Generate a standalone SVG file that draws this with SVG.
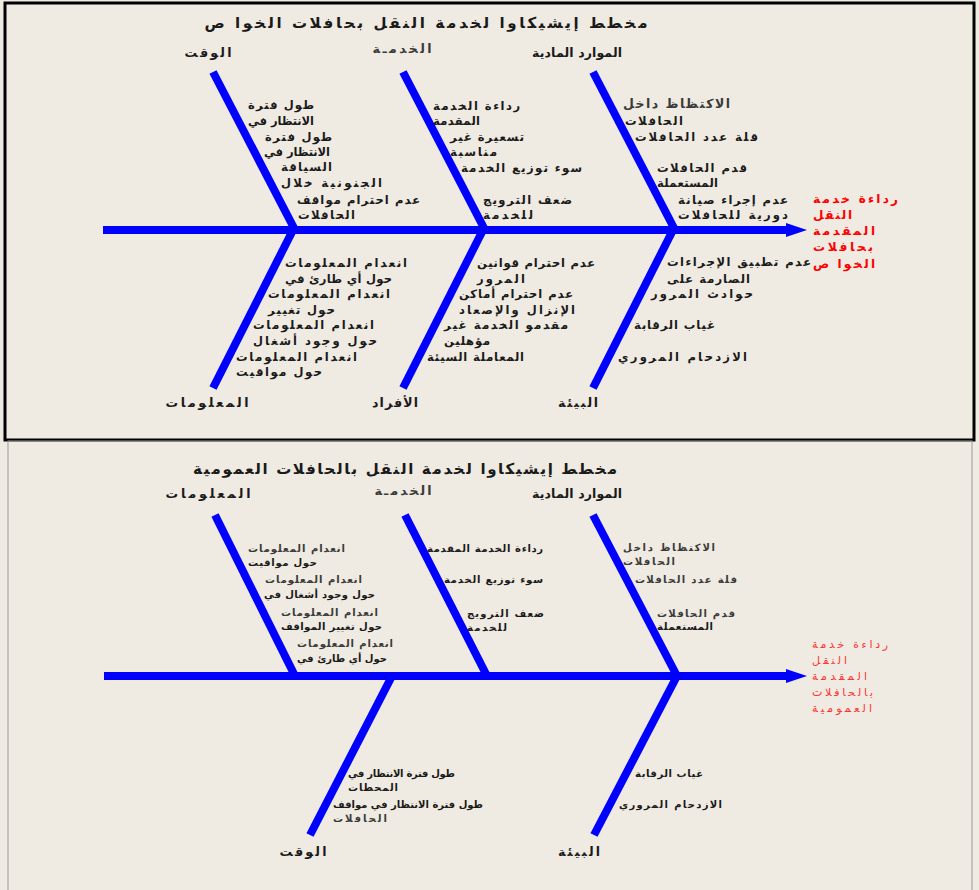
<svg xmlns="http://www.w3.org/2000/svg" width="979" height="890" viewBox="0 0 979 890">
<style>
text{font-family:"DejaVu Sans",sans-serif;fill:#1a1a1a}
.ttl{font-size:15px;font-weight:bold;text-anchor:middle}
.lbl{font-size:12.5px;font-weight:bold;text-anchor:middle}
.t{font-size:11.5px;font-weight:bold;text-anchor:end}
.s{font-size:10px;font-weight:bold;text-anchor:end}
.g{fill:#3a3a3a}
.eff{font-size:12px;font-weight:bold;fill:#ff0000}
.eff2{font-size:11px;fill:#ff3333}
.bone{stroke:#0000ff;stroke-width:8;fill:none;stroke-linecap:butt}
.ah{fill:#0000ff}
</style>
<rect x="0" y="0" width="979" height="890" fill="#efebe2"/>
<rect x="5" y="3" width="969" height="437" fill="none" stroke="#000" stroke-width="3"/>
<rect x="8" y="441" width="964" height="450" fill="none" stroke="#999" stroke-width="1"/>

<g id="connectors">
  <line class="bone" x1="103" y1="230" x2="790" y2="230"/>
  <polygon class="ah" points="786,223 807,230 786,237"/>
  <line class="bone" x1="213" y1="72" x2="295" y2="230"/>
  <line class="bone" x1="403" y1="72" x2="485" y2="230"/>
  <line class="bone" x1="593" y1="72" x2="675" y2="230"/>
  <line class="bone" x1="293" y1="230" x2="213" y2="388"/>
  <line class="bone" x1="483" y1="230" x2="403" y2="388"/>
  <line class="bone" x1="673" y1="230" x2="593" y2="388"/>

  <line class="bone" x1="104" y1="676" x2="790" y2="676"/>
  <polygon class="ah" points="786,669 807,676 786,683"/>
  <line class="bone" x1="215" y1="515" x2="295" y2="676"/>
  <line class="bone" x1="405" y1="515" x2="487" y2="676"/>
  <line class="bone" x1="593" y1="515" x2="677" y2="676"/>
  <line class="bone" x1="392" y1="676" x2="310" y2="835"/>
  <line class="bone" x1="677" y1="676" x2="594" y2="835"/>
</g>

<g id="title1"><text class="ttl" x="426" y="28" textLength="443" lengthAdjust="spacing">مخطط إيشيكاوا لخدمة النقل بحافلات الخوا ص</text></g>
<g id="effect1">
  <text class="eff" x="813" y="203" textLength="85" lengthAdjust="spacing">رداءة خدمة</text>
  <text class="eff" x="813" y="219" textLength="39" lengthAdjust="spacing">النقل</text>
  <text class="eff" x="813" y="235" textLength="62" lengthAdjust="spacing">المقدمة</text>
  <text class="eff" x="813" y="251" textLength="60" lengthAdjust="spacing">بحافلات</text>
  <text class="eff" x="813" y="268" textLength="62" lengthAdjust="spacing">الخوا ص</text>
</g>
<g id="time1">
  <text class="lbl" x="208" y="57" textLength="47" lengthAdjust="spacing">الوقت</text>
  <text class="t" x="314" y="109" textLength="66" lengthAdjust="spacing">طول فترة</text>
  <text class="t" x="314" y="125" textLength="66" lengthAdjust="spacing">الانتظار في</text>
  <text class="t" x="332" y="141" textLength="67" lengthAdjust="spacing">طول فترة</text>
  <text class="t" x="330" y="156" textLength="66" lengthAdjust="spacing">الانتظار في</text>
  <text class="t" x="332" y="171" textLength="51" lengthAdjust="spacing">السياقة</text>
  <text class="t" x="382" y="187" textLength="101" lengthAdjust="spacing">الجنونية خلال</text>
  <text class="t" x="420" y="204" textLength="123" lengthAdjust="spacing">عدم احترام مواقف</text>
  <text class="t" x="355" y="219" textLength="57" lengthAdjust="spacing">الحافلات</text>
</g>
<g id="service1">
  <text class="lbl g" x="402" y="53" textLength="59" lengthAdjust="spacing">الخدمـة</text>
  <text class="t" x="520" y="110" textLength="87" lengthAdjust="spacing">رداءة الخدمة</text>
  <text class="t" x="480" y="125" textLength="47" lengthAdjust="spacing">المقدمة</text>
  <text class="t" x="524" y="141" textLength="74" lengthAdjust="spacing">تسعيرة غير</text>
  <text class="t" x="497" y="156" textLength="47" lengthAdjust="spacing">مناسبة</text>
  <text class="t" x="582" y="172" textLength="121" lengthAdjust="spacing">سوء توزيع الخدمة</text>
  <text class="t" x="572" y="204" textLength="89" lengthAdjust="spacing">ضعف الترويج</text>
  <text class="t" x="533" y="219" textLength="50" lengthAdjust="spacing">للخدمة</text>
</g>
<g id="resources1">
  <text class="lbl" x="577" y="57" textLength="90" lengthAdjust="spacing">الموارد المادية</text>
  <text class="t g" x="730" y="108" style="font-size:12.5px" textLength="107" lengthAdjust="spacing">الاكتظاظ داخل</text>
  <text class="t" x="683" y="125" textLength="58" lengthAdjust="spacing">الحافلات</text>
  <text class="t" x="758" y="141" textLength="123" lengthAdjust="spacing">قلة عدد الحافلات</text>
  <text class="t" x="747" y="172" textLength="90" lengthAdjust="spacing">قدم الحافلات</text>
  <text class="t" x="718" y="187" textLength="61" lengthAdjust="spacing">المستعملة</text>
  <text class="t" x="788" y="204" textLength="110" lengthAdjust="spacing">عدم إجراء صيانة</text>
  <text class="t" x="788" y="219" textLength="110" lengthAdjust="spacing">دورية للحافلات</text>
</g>
<g id="info1">
  <text class="lbl" x="207" y="407" textLength="83" lengthAdjust="spacing">المعلومات</text>
  <text class="t" x="407" y="267" textLength="122" lengthAdjust="spacing">انعدام المعلومات</text>
  <text class="t" x="392" y="283" textLength="107" lengthAdjust="spacing">حول أي طارئ في</text>
  <text class="t" x="390" y="298" textLength="122" lengthAdjust="spacing">انعدام المعلومات</text>
  <text class="t" x="335" y="314" textLength="67" lengthAdjust="spacing">حول تغيير</text>
  <text class="t" x="374" y="329" textLength="121" lengthAdjust="spacing">انعدام المعلومات</text>
  <text class="t" x="377" y="345" textLength="124" lengthAdjust="spacing">حول وجود أشغال</text>
  <text class="t" x="357" y="361" textLength="121" lengthAdjust="spacing">انعدام المعلومات</text>
  <text class="t" x="322" y="376" textLength="86" lengthAdjust="spacing">حول مواقيت</text>
</g>
<g id="people1">
  <text class="lbl" x="395" y="407" textLength="46" lengthAdjust="spacing">الأفراد</text>
  <text class="t" x="595" y="267" textLength="118" lengthAdjust="spacing">عدم احترام قوانين</text>
  <text class="t" x="525" y="283" textLength="48" lengthAdjust="spacing">المرور</text>
  <text class="t" x="573" y="298" textLength="114" lengthAdjust="spacing">عدم احترام أماكن</text>
  <text class="t" x="575" y="314" textLength="116" lengthAdjust="spacing">الإنزال والإصعاد</text>
  <text class="t" x="568" y="329" textLength="124" lengthAdjust="spacing">مقدمو الخدمة غير</text>
  <text class="t" x="490" y="345" textLength="46" lengthAdjust="spacing">مؤهلين</text>
  <text class="t" x="524" y="361" textLength="97" lengthAdjust="spacing">المعاملة السيئة</text>
</g>
<g id="env1">
  <text class="lbl" x="578" y="407" textLength="40" lengthAdjust="spacing">البيئة</text>
  <text class="t" x="811" y="266" textLength="144" lengthAdjust="spacing">عدم تطبيق الإجراءات</text>
  <text class="t" x="750" y="283" textLength="83" lengthAdjust="spacing">الصارمة على</text>
  <text class="t" x="753" y="298" textLength="102" lengthAdjust="spacing">حوادث المرور</text>
  <text class="t" x="715" y="329" textLength="81" lengthAdjust="spacing">غياب الرقابة</text>
  <text class="t" x="747" y="361" textLength="129" lengthAdjust="spacing">الازدحام المروري</text>
</g>

<g id="title2"><text class="ttl" x="405" y="474" textLength="424" lengthAdjust="spacing">مخطط إيشيكاوا لخدمة النقل بالحافلات العمومية</text></g>
<g id="effect2">
  <text class="eff2" x="812" y="648" textLength="76" lengthAdjust="spacing">رداءة خدمة</text>
  <text class="eff2" x="812" y="664" textLength="35" lengthAdjust="spacing">النقل</text>
  <text class="eff2" x="812" y="680" textLength="55" lengthAdjust="spacing">المقدمة</text>
  <text class="eff2" x="812" y="696" textLength="61" lengthAdjust="spacing">بالحافلات</text>
  <text class="eff2" x="812" y="712" textLength="60" lengthAdjust="spacing">العمومية</text>
</g>
<g id="info2">
  <text class="lbl" x="208" y="498" textLength="85" lengthAdjust="spacing">المعلومات</text>
  <text class="s g" x="345" y="552" textLength="97" lengthAdjust="spacing">انعدام المعلومات</text>
  <text class="s" x="317" y="566" textLength="69" lengthAdjust="spacing">حول مواقيت</text>
  <text class="s g" x="362" y="583" textLength="97" lengthAdjust="spacing">انعدام المعلومات</text>
  <text class="s" x="375" y="598" textLength="111" lengthAdjust="spacing">حول وجود أشغال في</text>
  <text class="s g" x="378" y="616" textLength="97" lengthAdjust="spacing">انعدام المعلومات</text>
  <text class="s" x="382" y="630" textLength="101" lengthAdjust="spacing">حول تغيير المواقف</text>
  <text class="s g" x="393" y="647" textLength="96" lengthAdjust="spacing">انعدام المعلومات</text>
  <text class="s" x="387" y="662" textLength="90" lengthAdjust="spacing">حول أي طارئ في</text>
</g>
<g id="service2">
  <text class="lbl g" x="403" y="495" textLength="57" lengthAdjust="spacing">الخدمـة</text>
  <text class="s" x="543" y="552" textLength="116" lengthAdjust="spacing">رداءة الخدمة المقدمة</text>
  <text class="s" x="543" y="583" textLength="99" lengthAdjust="spacing">سوء توزيع الخدمة</text>
  <text class="s" x="544" y="617" textLength="77" lengthAdjust="spacing">ضعف الترويج</text>
  <text class="s" x="507" y="631" textLength="40" lengthAdjust="spacing">للخدمة</text>
</g>
<g id="resources2">
  <text class="lbl" x="577" y="498" textLength="90" lengthAdjust="spacing">الموارد المادية</text>
  <text class="s g" x="715" y="551" textLength="92" lengthAdjust="spacing">الاكتظاظ داخل</text>
  <text class="s g" x="675" y="565" textLength="52" lengthAdjust="spacing">الحافلات</text>
  <text class="s g" x="737" y="583" textLength="102" lengthAdjust="spacing">قلة عدد الحافلات</text>
  <text class="s g" x="735" y="617" textLength="78" lengthAdjust="spacing">قدم الحافلات</text>
  <text class="s" x="713" y="630" textLength="56" lengthAdjust="spacing">المستعملة</text>
</g>
<g id="time2">
  <text class="lbl" x="303" y="856" textLength="47" lengthAdjust="spacing">الوقت</text>
  <text class="s" x="455" y="777" textLength="107" lengthAdjust="spacing">طول فترة الانتظار في</text>
  <text class="s" x="398" y="791" textLength="50" lengthAdjust="spacing">المحطات</text>
  <text class="s" x="483" y="808" textLength="150" lengthAdjust="spacing">طول فترة الانتظار في مواقف</text>
  <text class="s g" x="387" y="822" textLength="54" lengthAdjust="spacing">الحافلات</text>
</g>
<g id="env2">
  <text class="lbl" x="579" y="856" textLength="42" lengthAdjust="spacing">البيئة</text>
  <text class="s" x="703" y="777" textLength="68" lengthAdjust="spacing">غياب الرقابة</text>
  <text class="s" x="722" y="808" textLength="103" lengthAdjust="spacing">الازدحام المروري</text>
</g>
</svg>
